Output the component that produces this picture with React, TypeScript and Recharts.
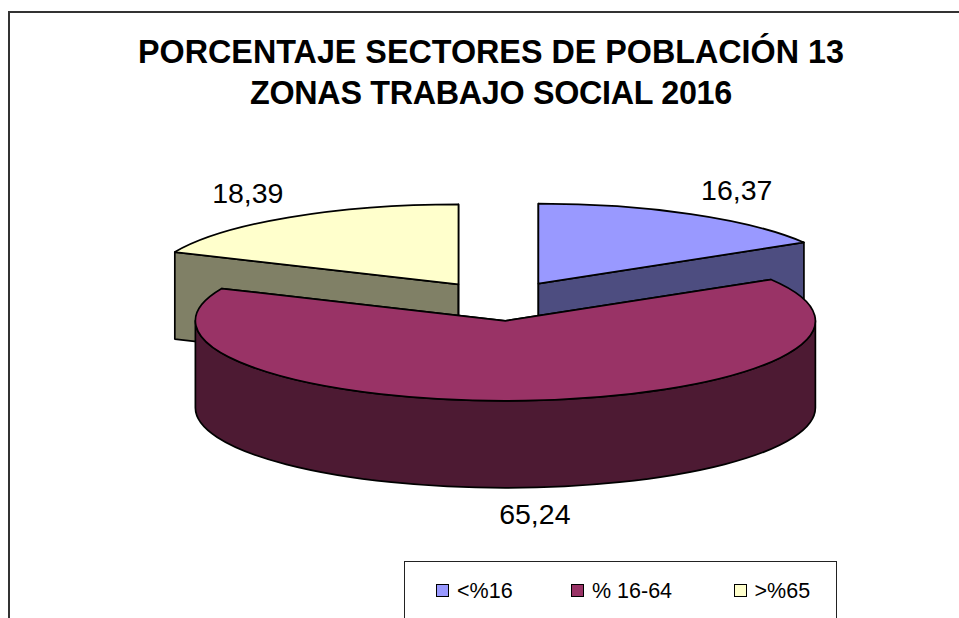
import { Legend, Pie, PieChart } from "recharts";

const categories = ["<%16", "% 16-64", ">%65"];
const values = [16.37, 65.24, 18.39];
const topColors = ["#9999ff", "#993366", "#ffffcc"];
const wallColors = ["#4d4d80", "#4d1a33", "#808066"];
const titleLines = ["PORCENTAJE SECTORES DE POBLACIÓN 13", "ZONAS TRABAJO SOCIAL 2016"];

// drawn back to front: the big slice has to sit on top of the others
const drawOrder = [2, 0, 1];
const slices = drawOrder.map((i) => ({
  name: categories[i],
  value: values[i],
  fill: topColors[i],
  wall: wallColors[i],
}));

const TILT = 0.258;
const DEPTH = 87;
const EXPLODE = 77;
const RAD = Math.PI / 180;

const font = "'Liberation Sans', Arial, sans-serif";

// centre of a slice once pulled out along its middle angle
const sliceCentre = (cx: number, cy: number, mid: number) => ({
  x: cx + EXPLODE * Math.cos(mid * RAD),
  y: cy - EXPLODE * TILT * Math.sin(mid * RAD),
});

const rim = (c: { x: number; y: number }, r: number, a: number) => ({
  x: c.x + r * Math.cos(a * RAD),
  y: c.y - r * TILT * Math.sin(a * RAD),
});

function Slice3D(props: any) {
  const { cx, cy, outerRadius: r, startAngle, endAngle, fill, payload } = props;
  const wall = payload?.wall ?? props.wall;
  const c = sliceCentre(cx, cy, (startAngle + endAngle) / 2);
  const a = rim(c, r, startAngle);
  const b = rim(c, r, endAngle);
  const ry = r * TILT;
  const big = Math.abs(startAngle - endAngle) > 180 ? 1 : 0;
  const edge = { stroke: "#000", strokeWidth: 1.7, strokeLinejoin: "round" as const };

  const top = `M${c.x},${c.y} L${a.x},${a.y} A${r},${ry} 0 ${big} 1 ${b.x},${b.y} Z`;
  const face = (p: { x: number; y: number }) =>
    `M${c.x},${c.y} L${p.x},${p.y} L${p.x},${p.y + DEPTH} L${c.x},${c.y + DEPTH} Z`;

  // front part of the outer wall: only where the rim runs under the horizon
  const from = Math.min(startAngle, -0);
  const to = Math.max(endAngle, -180);
  const hasFront = from > to;
  const f = rim(c, r, from);
  const g = rim(c, r, to);
  const front = `M${f.x},${f.y} A${r},${ry} 0 0 1 ${g.x},${g.y} L${g.x},${g.y + DEPTH} A${r},${ry} 0 0 0 ${f.x},${f.y + DEPTH} Z`;

  return (
    <g>
      <path d={face(a)} fill={wall} {...edge} />
      <path d={face(b)} fill={wall} {...edge} />
      {hasFront && <path d={front} fill={wall} {...edge} />}
      <path d={top} fill={fill} {...edge} />
    </g>
  );
}

function sliceLabel(props: any) {
  const { cx, cy, outerRadius: r, midAngle, value } = props;
  const c = sliceCentre(cx, cy, midAngle);
  const p = rim(c, r, midAngle);
  const upper = Math.sin(midAngle * RAD) > 0;
  return (
    <text
      x={p.x + 84 * Math.cos(midAngle * RAD) + 4.5}
      y={upper ? p.y - 24 : p.y + DEPTH + 26}
      textAnchor="middle"
      dominantBaseline="central"
      fontFamily={font}
      fontSize={28.5}
      fill="#000"
    >
      {value.toFixed(2).replace(".", ",")}
    </text>
  );
}

function LegendBox() {
  return (
    <div
      style={{
        position: "absolute",
        left: 404,
        top: 561,
        width: 433,
        height: 80,
        border: "1.5px solid #222",
        boxSizing: "border-box",
        background: "#fff",
        fontFamily: font,
        fontSize: 21.5,
        color: "#000",
      }}
    >
      {categories.map((name, i) => (
        <div
          key={name}
          style={{
            position: "absolute",
            left: [31, 166, 328.5][i],
            top: 15.5,
            display: "flex",
            alignItems: "center",
            lineHeight: "26px",
            whiteSpace: "pre",
          }}
        >
          <span
            style={{
              width: 11,
              height: 11,
              marginRight: 8,
              background: topColors[i],
              border: "1.5px solid #000",
            }}
          />
          {name}
        </div>
      ))}
    </div>
  );
}

export default function App() {
  return (
    <div
      style={{
        position: "absolute",
        left: 0,
        top: 0,
        width: 959,
        height: 618,
        overflow: "hidden",
        background: "#fff",
      }}
    >
      {/* chart frame: only the top and left edges fall inside the picture */}
      <div
        style={{
          position: "absolute",
          left: 8,
          top: 11,
          width: 1000,
          height: 700,
          borderLeft: "2px solid #333",
          borderTop: "2px solid #333",
          boxSizing: "border-box",
        }}
      />
      <PieChart width={959} height={618} margin={{ top: 0, right: 0, bottom: 0, left: 0 }} style={{ position: "absolute", left: 0, top: 0 }}>
        <text textAnchor="middle" fontFamily={font} fontWeight="bold" fontSize={32.3} fill="#000">
          <tspan x={491} y={63}>{titleLines[0]}</tspan>
          <tspan x={491} y={104} letterSpacing={-0.3}>{titleLines[1]}</tspan>
        </text>
        <Pie
          data={slices}
          dataKey="value"
          nameKey="name"
          cx={500.5}
          cy={301}
          outerRadius={310}
          startAngle={156.2}
          endAngle={-203.8}
          isAnimationActive={false}
          shape={Slice3D}
          label={sliceLabel}
          labelLine={false}
        />
        <Legend content={() => <LegendBox />} wrapperStyle={{ position: "static" }} />
      </PieChart>
    </div>
  );
}
